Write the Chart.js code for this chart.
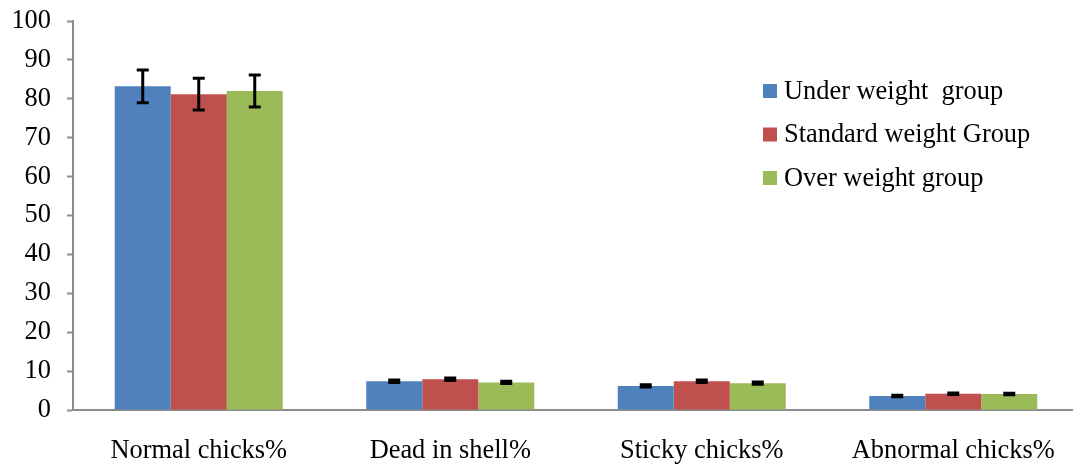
<!DOCTYPE html>
<html>
<head>
<meta charset="utf-8">
<script src="https://cdn.jsdelivr.net/npm/chart.js@4.4.1/dist/chart.umd.min.js"></script>
<style>
html,body{margin:0;padding:0;background:#fff;overflow:hidden;}
#wrap{width:1079px;height:465px;}
</style>
</head>
<body>
<div id="wrap"><canvas id="c" width="1079" height="465"></canvas></div>
<script>
const categories = ['Normal chicks%', 'Dead in shell%', 'Sticky chicks%', 'Abnormal chicks%'];
const seriesNames = ['Under weight  group', 'Standard weight Group', 'Over weight group'];
const underWeight = [83.2, 7.4, 6.2, 3.6];
const standardWeight = [81.2, 7.9, 7.4, 4.2];
const overWeight = [82.0, 7.1, 6.9, 4.1];
const underErr = [4.2, 0.3, 0.3, 0.2];
const standardErr = [4.1, 0.3, 0.3, 0.2];
const overErr = [4.1, 0.3, 0.3, 0.2];
const yTicks = [0, 10, 20, 30, 40, 50, 60, 70, 80, 90, 100];

const colors = ['#4F81BD', '#C0504D', '#9BBB59'];
const FONT = "'Liberation Serif', 'Times New Roman', serif";
const FS = 26.4;

const errorBarPlugin = {
  id: 'errorBars',
  afterDatasetsDraw(chart) {
    const ctx = chart.ctx;
    const y = chart.scales.y;
    ctx.save();
    ctx.strokeStyle = '#000';
    ctx.lineWidth = 3;
    chart.data.datasets.forEach((ds, di) => {
      const meta = chart.getDatasetMeta(di);
      meta.data.forEach((bar, i) => {
        const v = ds.data[i], e = ds.errors[i];
        const top = y.getPixelForValue(v + e);
        const bot = y.getPixelForValue(v - e);
        const x = bar.x;
        ctx.beginPath();
        ctx.moveTo(x, top); ctx.lineTo(x, bot);
        ctx.moveTo(x - 6, top); ctx.lineTo(x + 6, top);
        ctx.moveTo(x - 6, bot); ctx.lineTo(x + 6, bot);
        ctx.stroke();
      });
    });
    ctx.restore();
  }
};

const legendPlugin = {
  id: 'innerLegend',
  afterDraw(chart) {
    const ctx = chart.ctx;
    ctx.save();
    ctx.font = FS + 'px ' + FONT;
    ctx.textBaseline = 'middle';
    chart.data.datasets.forEach((ds, i) => {
      const cy = 91 + i * 43.5;
      ctx.fillStyle = ds.backgroundColor;
      ctx.fillRect(763, cy - 7, 14, 14);
      ctx.fillStyle = '#000';
      ctx.fillText(ds.label, 784, cy + 1);
    });
    ctx.restore();
  }
};

const mk = (label, data, errors, color) => ({
  label, data, errors, backgroundColor: color, borderWidth: 0,
  categoryPercentage: 0.668, barPercentage: 1.0
});

new Chart(document.getElementById('c'), {
  type: 'bar',
  data: {
    labels: categories,
    datasets: [
      mk(seriesNames[0], underWeight, underErr, colors[0]),
      mk(seriesNames[1], standardWeight, standardErr, colors[1]),
      mk(seriesNames[2], overWeight, overErr, colors[2])
    ]
  },
  options: {
    responsive: false,
    animation: false,
    layout: { padding: { top: 21, right: 0, left: 0, bottom: 0 } },
    plugins: { legend: { display: false }, tooltip: { enabled: false } },
    scales: {
      x: {
        grid: { display: false },
        border: { display: true, color: '#8c8c8c', width: 2 },
        ticks: { color: '#000', font: { family: FONT, size: FS }, padding: 17, maxRotation: 0 },
        afterFit(scale) { scale.height = 55; scale.paddingLeft = 0; scale.paddingRight = 0; }
      },
      y: {
        min: 0, max: 100,
        afterBuildTicks(scale) { scale.ticks = yTicks.map(v => ({ value: v })); },
        grid: { drawOnChartArea: false, drawTicks: true, tickLength: 6, color: '#8c8c8c', tickWidth: 2 },
        border: { display: true, color: '#8c8c8c', width: 2 },
        ticks: { color: '#000', font: { family: FONT, size: FS }, padding: 16 },
        afterFit(scale) { scale.width = 73; scale.paddingTop = 0; scale.paddingBottom = 0; }
      }
    }
  },
  plugins: [errorBarPlugin, legendPlugin]
});
</script>
</body>
</html>
